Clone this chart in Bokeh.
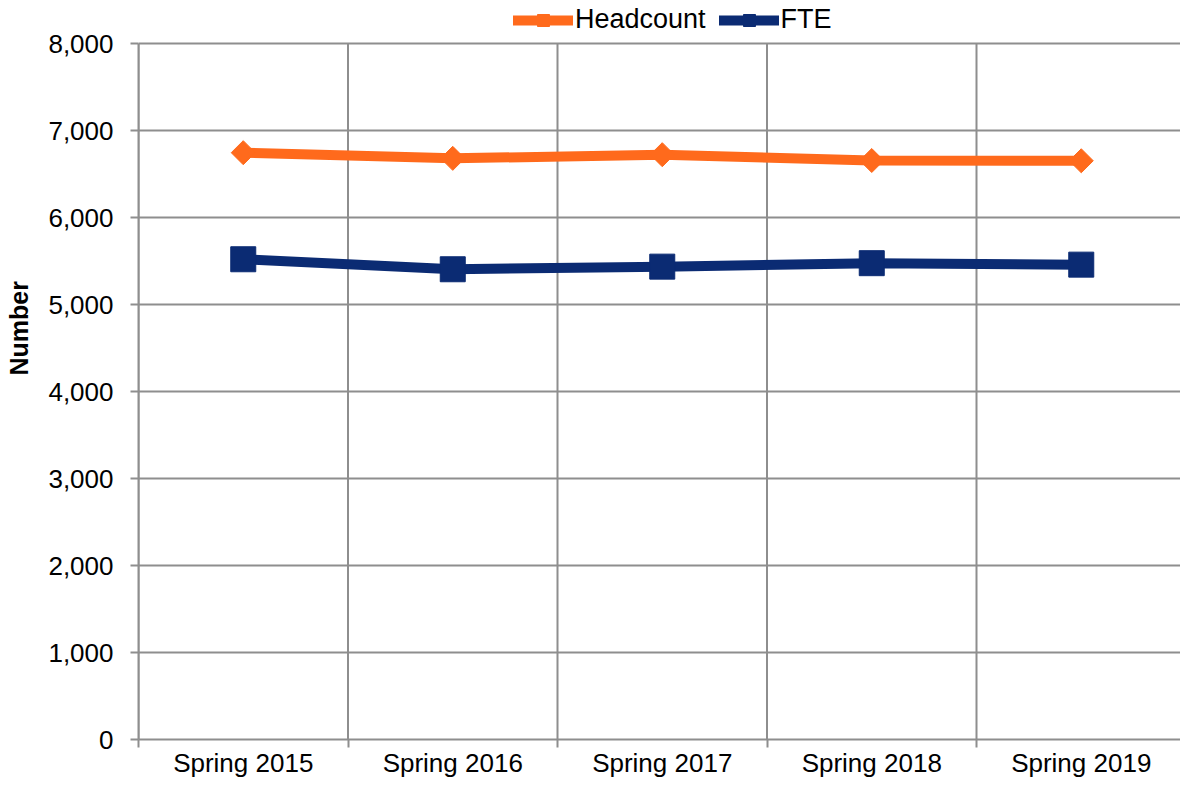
import math
from bokeh.plotting import figure
from bokeh.models import (Range1d, FixedTicker, NumeralTickFormatter, Legend, LegendItem, Title)
from bokeh.embed import file_html
from bokeh.resources import INLINE

categories = ["Spring 2015", "Spring 2016", "Spring 2017", "Spring 2018", "Spring 2019"]
headcount = [6745, 6680, 6722, 6655, 6652]
fte = [5520, 5405, 5435, 5475, 5458]
y_ticks = [0, 1000, 2000, 3000, 4000, 5000, 6000, 7000, 8000]
series_names = ["Headcount", "FTE"]

FONT = "Liberation Sans"
ORANGE = "#FF6A1C"
NAVY = "#0B2B73"
GRID = "#8e8e8e"

xs = [i + 1 for i in range(len(categories))]
bounds = [i + 0.5 for i in range(len(categories) + 1)]
y_lo, y_hi = y_ticks[0], y_ticks[-1]

W, H = 1180, 787
FW = W - 138
PX_PER_1000 = 87.0
p = figure(width=W, height=H, output_backend="svg", toolbar_location=None,
           x_range=Range1d(0.5, 0.5 + FW / 209.5),
           y_range=Range1d(y_lo, y_hi + 43 * 1000 / PX_PER_1000),
           min_border_left=138, min_border_right=0, min_border_top=0, min_border_bottom=48)
p.outline_line_color = None
p.background_fill_color = "white"

# axes
xa = p.xaxis[0]
xa.ticker = FixedTicker(ticks=xs, minor_ticks=bounds)
xa.major_label_overrides = {x: c for x, c in zip(xs, categories)}
xa.major_tick_out = 0
xa.major_tick_in = 0
xa.minor_tick_out = 8
xa.minor_tick_in = 0
xa.minor_tick_line_color = GRID
xa.minor_tick_line_width = 2
xa.axis_line_color = GRID
xa.axis_line_width = 2
xa.major_label_text_font = FONT
xa.major_label_text_font_size = "26px"
xa.major_label_text_color = "black"
xa.major_label_standoff = 0

ya = p.yaxis[0]
ya.ticker = FixedTicker(ticks=y_ticks)
ya.formatter = NumeralTickFormatter(format="0,0")
ya.bounds = (y_lo, y_hi)
ya.major_tick_out = 8
ya.major_tick_in = 0
ya.minor_tick_out = 0
ya.minor_tick_in = 0
ya.major_tick_line_color = GRID
ya.major_tick_line_width = 2
ya.axis_line_color = GRID
ya.axis_line_width = 2
ya.major_label_text_font = FONT
ya.major_label_text_font_size = "26px"
ya.major_label_text_color = "black"
ya.major_label_standoff = 17
# invisible spacer label to push the "Number" title further out
ya.axis_label = " "
ya.axis_label_text_font_size = "2px"
ya.axis_label_standoff = 6

p.xgrid.grid_line_color = None
p.ygrid.grid_line_color = GRID
p.ygrid.grid_line_width = 2

# vertical category-boundary grid lines, limited to the value span
p.segment(x0=bounds, y0=[y_lo] * len(bounds), x1=bounds, y1=[y_hi] * len(bounds),
          line_color=GRID, line_width=2)

# series
l1 = p.line(xs, headcount, line_color=ORANGE, line_width=10, line_join="round", line_cap="round")
s1 = p.scatter(xs, headcount, marker="square", angle=math.pi / 4, size=17,
               fill_color=ORANGE, line_color=ORANGE)
l2 = p.line(xs, fte, line_color=NAVY, line_width=10, line_join="round", line_cap="round")
s2 = p.scatter(xs, fte, marker="square", size=25, fill_color=NAVY, line_color=NAVY)

legend = Legend(items=[LegendItem(label=series_names[0], renderers=[l1, s1]),
                       LegendItem(label=series_names[1], renderers=[l2, s2])],
                orientation="horizontal", location=(373, 702),
                glyph_width=60, glyph_height=30, label_height=30, label_standoff=2,
                spacing=13, padding=2, margin=0,
                border_line_alpha=0, background_fill_alpha=0,
                label_text_font=FONT, label_text_font_size="27px", label_text_color="black")
p.add_layout(legend, "center")

p.add_layout(Title(text="Number", align="left", offset=364, standoff=4,
                   text_font=FONT, text_font_size="25px", text_font_style="bold",
                   text_color="black"), "left")

open("out.html", "w").write(file_html(p, INLINE))
